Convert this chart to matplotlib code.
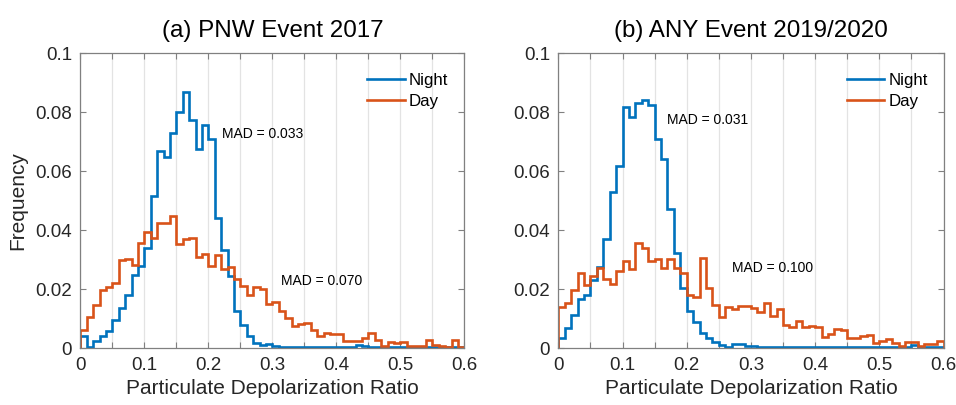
import numpy as np
import matplotlib.pyplot as plt

plt.rcParams['font.family'] = ['Liberation Sans', 'DejaVu Sans']

# bin edges of the depolarization ratio histograms (0.01 wide)
edges = np.round(np.arange(0, 0.601, 0.01), 3)

# (a) PNW Event 2017
pnw_night = [0.004, 0.0003, 0.0025, 0.004, 0.006, 0.0095, 0.0135, 0.018, 0.025, 0.028,
             0.034, 0.0516, 0.067, 0.065, 0.073, 0.080, 0.087, 0.0775, 0.0677, 0.0756,
             0.0709, 0.044, 0.0333, 0.0245, 0.0128, 0.0079, 0.0043, 0.0019, 0.001, 0.0013,
             0.0008, 0.0004, 0.0003, 0.0003, 0.0003, 0.0004, 0.0003, 0.0003, 0.0003, 0.0004,
             0.0003, 0.0003, 0.0005, 0.001, 0.0008, 0.0003, 0.0003, 0.0003, 0.0004, 0.0003,
             0.0003, 0.0003, 0.0003, 0.0003, 0.0004, 0.0003, 0.0003, 0.0003, 0.0003, 0.0003]
pnw_day = [0.0062, 0.0107, 0.0147, 0.0198, 0.0209, 0.022, 0.030, 0.0304, 0.0283, 0.0358,
           0.0393, 0.0375, 0.0424, 0.0426, 0.0449, 0.0353, 0.037, 0.0373, 0.0311, 0.0319,
           0.028, 0.0316, 0.0268, 0.0277, 0.0236, 0.0211, 0.0179, 0.0209, 0.020, 0.015,
           0.0156, 0.0128, 0.0104, 0.0077, 0.0082, 0.0087, 0.0062, 0.0043, 0.0051, 0.0047,
           0.0047, 0.0025, 0.0025, 0.0025, 0.0036, 0.0051, 0.0028, 0.0008, 0.0023, 0.0017,
           0.002, 0.0008, 0.0008, 0.0008, 0.0028, 0.0012, 0.0008, 0.0006, 0.0028, 0.0006]

# (b) ANY Event 2019/2020
any_night = [0.0036, 0.007, 0.0113, 0.0167, 0.018, 0.0232, 0.0277, 0.037, 0.0531, 0.0618,
             0.0817, 0.0783, 0.083, 0.0842, 0.0825, 0.071, 0.0643, 0.0471, 0.0322, 0.0206,
             0.0128, 0.009, 0.0051, 0.0036, 0.0023, 0.001, 0.0006, 0.0013, 0.0013, 0.0008,
             0.0008, 0.0004, 0.0003, 0.0003, 0.0004, 0.0003, 0.0003, 0.0003, 0.0004, 0.0003,
             0.0003, 0.0003, 0.0004, 0.0003, 0.0003, 0.0003, 0.0003, 0.0003, 0.0003, 0.0003,
             0.0003, 0.0003, 0.0003, 0.0003, 0.0004, 0.001, 0.0004, 0.0003, 0.0003, 0.0003]
any_day = [0.0141, 0.0153, 0.0198, 0.0254, 0.0215, 0.0245, 0.0271, 0.0235, 0.0218, 0.0263,
           0.0297, 0.0268, 0.0356, 0.0339, 0.0297, 0.0302, 0.0272, 0.0303, 0.0272, 0.0254,
           0.0179, 0.0175, 0.0305, 0.0203, 0.0147, 0.0105, 0.0141, 0.0132, 0.0145, 0.0145,
           0.0136, 0.0124, 0.0153, 0.0111, 0.0132, 0.0079, 0.0071, 0.0094, 0.0071, 0.0077,
           0.0071, 0.0037, 0.005, 0.0064, 0.0062, 0.0034, 0.0034, 0.0043, 0.0045, 0.0019,
           0.0025, 0.003, 0.0019, 0.0008, 0.0023, 0.0023, 0.0008, 0.0015, 0.0015, 0.0025]

titles = ['(a) PNW Event 2017', '(b) ANY Event 2019/2020']
mad_night = ['MAD = 0.033', 'MAD = 0.031']
mad_day = ['MAD = 0.070', 'MAD = 0.100']
mad_night_xy = [(0.222, 0.0726), (0.170, 0.0774)]
mad_day_xy = [(0.313, 0.0229), (0.270, 0.0271)]

blue = '#0072BD'
orange = '#D95319'
axcol = '#808080'
txtcol = '#262626'

fig = plt.figure(figsize=(9.56, 4.05), dpi=100)
ax1 = fig.add_axes([0.0840, 0.140, 0.4017, 0.7284])
ax2 = fig.add_axes([0.5840, 0.140, 0.4030, 0.7284])

data = [(pnw_night, pnw_day), (any_night, any_day)]
xt = np.round(np.arange(0, 0.601, 0.05), 2)
xtl = ['%g' % v if i % 2 == 0 else '' for i, v in enumerate(xt)]
yt = [0, 0.02, 0.04, 0.06, 0.08, 0.1]
ytl = ['0', '0.02', '0.04', '0.06', '0.08', '0.1']

for i, ax in enumerate([ax1, ax2]):
    night, day = data[i]
    ax.stairs(night, edges, color=blue, lw=1.9, label='Night', baseline=0)
    ax.stairs(day, edges, color=orange, lw=1.9, label='Day', baseline=0)
    ax.set_xlim(0, 0.6)
    ax.set_ylim(0, 0.1)
    ax.set_xticks(xt)
    ax.set_xticklabels(xtl)
    ax.set_yticks(yt)
    ax.set_yticklabels(ytl)
    ax.grid(axis='x', color='#e3e3e3', lw=0.9)
    ax.set_axisbelow(True)
    ax.tick_params(direction='in', length=4, width=0.8, color=axcol, labelcolor=txtcol,
                   labelsize=13.5, top=True, right=True, pad=6)
    for sp in ax.spines.values():
        sp.set_color(axcol)
        sp.set_linewidth(0.9)
    ax.set_title(titles[i], fontsize=17.4, color='black', pad=12)
    ax.set_xlabel('Particulate Depolarization Ratio', fontsize=15, color=txtcol, labelpad=4)
    ax.text(mad_night_xy[i][0], mad_night_xy[i][1], mad_night[i], fontsize=10,
            va='center', ha='left', color='black')
    ax.text(mad_day_xy[i][0], mad_day_xy[i][1], mad_day[i], fontsize=10,
            va='center', ha='left', color='black')
    ax.legend(loc='upper right', frameon=False, fontsize=12.2, handlelength=2.2,
              handletextpad=0.25, labelspacing=0.35, borderaxespad=0.5,
              bbox_to_anchor=(0.998, 0.985))

ax1.set_ylabel('Frequency', fontsize=15, color=txtcol, labelpad=6)

fig.savefig('out.png', dpi=100)
